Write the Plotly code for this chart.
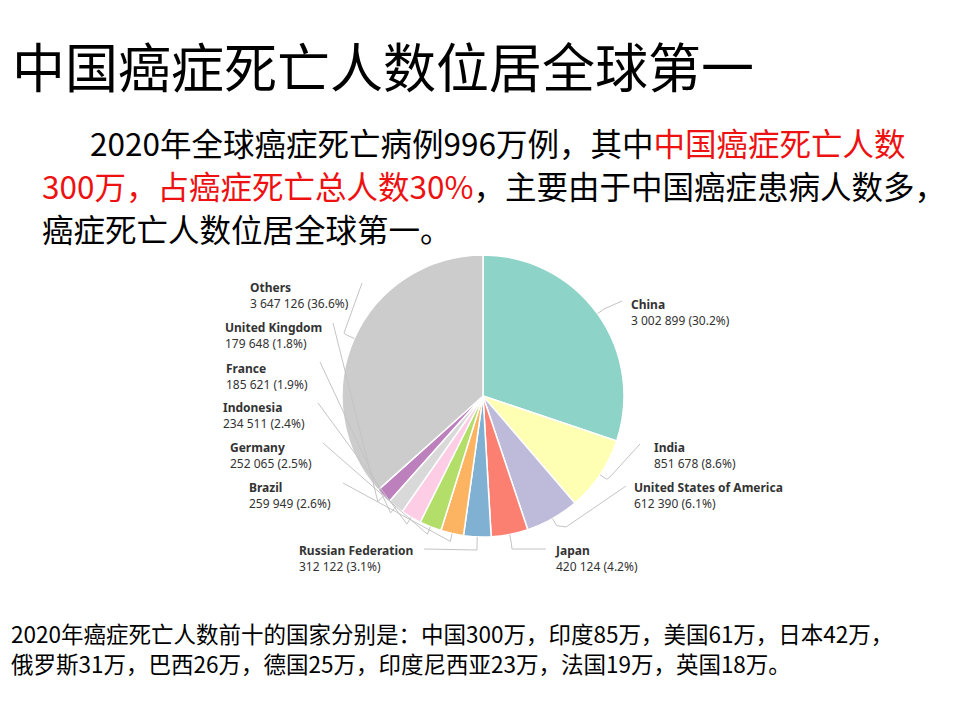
import math
import plotly.graph_objects as go

countries = ["China", "India", "United States of America", "Japan", "Russian Federation",
             "Brazil", "Germany", "Indonesia", "France", "United Kingdom", "Others"]
deaths = [3002899, 851678, 612390, 420124, 312122, 259949, 252065, 234511, 185621, 179648, 3647126]
colors = ["#8dd3c7", "#ffffb3", "#bebada", "#fb8072", "#80b1d3", "#fdb462",
          "#b3de69", "#fccde5", "#d9d9d9", "#bc80bd", "#cccccc"]

title_text = "中国癌症死亡人数位居全球第一"
para_lines = [
    "2020年全球癌症死亡病例996万例，其中<span style='color:#ee1111'>中国癌症死亡人数</span>",
    "<span style='color:#ee1111'>300万，占癌症死亡总人数30%</span>，主要由于中国癌症患病人数多，",
    "癌症死亡人数位居全球第一。",
]
bottom_lines = [
    "2020年癌症死亡人数前十的国家分别是：中国300万，印度85万，美国61万，日本42万，",
    "俄罗斯31万，巴西26万，德国25万，印度尼西亚23万，法国19万，英国18万。",
]

# layout (pixel) positions for the labels and leader line ends
label_pos = {
    "China": (629, 294), "India": (652, 437), "United States of America": (632, 477),
    "Japan": (553, 540), "Russian Federation": (297, 540), "Brazil": (247, 477),
    "Germany": (228, 437), "Indonesia": (221, 397), "France": (224, 358),
    "United Kingdom": (223, 317), "Others": (248, 277),
}
line_end = {
    "China": [(622, 301)], "India": [(609, 478), (640, 444)],
    "United States of America": [(566, 527), (626, 486)],
    "Japan": [(512, 549), (546, 549)], "Russian Federation": [(477, 550), (424, 549)],
    "Brazil": [(343, 483)], "Germany": [(323, 443)], "Indonesia": [(318, 403)],
    "France": [(320, 362)], "United Kingdom": [(333, 323)], "Others": [(344, 333), (362, 283)],
}

W, H = 960, 720
OFF = 8  # page body margin
cx, cy, r = 483, 396, 141

fig = go.Figure()
fig.add_trace(go.Pie(
    labels=countries, values=deaths, sort=False, direction="clockwise", rotation=0,
    marker=dict(colors=colors, line=dict(color="white", width=1.5)),
    textinfo="none", hoverinfo="label+value+percent", showlegend=False,
    domain=dict(x=[(cx - OFF - r) / W, (cx - OFF + r) / W],
                y=[(H - (cy - OFF) - r) / H, (H - (cy - OFF) + r) / H]),
))

total = sum(deaths)
shapes = []
annotations = []
cum = 0
for name, v in zip(countries, deaths):
    mid = (cum + v / 2) / total * 2 * math.pi
    cum += v
    sx, sy = cx + r * math.sin(mid), cy - r * math.cos(mid)
    ex, ey = cx + (r + 8) * math.sin(mid), cy - (r + 8) * math.cos(mid)
    pts = [(sx, sy), (ex, ey)] + line_end[name]
    path = "M " + " L ".join(f"{x:.1f},{y:.1f}" for x, y in pts)
    shapes.append(dict(type="path", path=path, xref="x", yref="y",
                       line=dict(color="#c4c4c4", width=1)))
    pct = v / total * 100
    val = f"{v:,}".replace(",", " ")
    lx, ly = label_pos[name]
    annotations.append(dict(
        x=lx, y=ly, xref="x", yref="y", xanchor="left", yanchor="top", align="left",
        showarrow=False, text=f"<b>{name}</b><br>{val} ({pct:.1f}%)",
        font=dict(family="Noto Sans, sans-serif", size=12, color="#333333")))

cjk = "Noto Sans CJK SC"
annotations.append(dict(x=10, y=65, xref="x", yref="y", xanchor="left", yanchor="middle",
                        showarrow=False, text=title_text,
                        font=dict(family=cjk, size=53, color="black")))
para_x = [88, 40, 40]
para_y = [142, 185, 228]
for t, x, y in zip(para_lines, para_x, para_y):
    annotations.append(dict(x=x, y=y, xref="x", yref="y", xanchor="left", yanchor="middle",
                            showarrow=False, text=t, font=dict(family=cjk, size=31.5, color="black")))
for t, y in zip(bottom_lines, [633, 663]):
    annotations.append(dict(x=9, y=y, xref="x", yref="y", xanchor="left", yanchor="middle",
                            showarrow=False, text=t, font=dict(family=cjk, size=22.5, color="black")))

fig.update_layout(
    width=W, height=H, margin=dict(l=0, r=0, t=0, b=0),
    paper_bgcolor="white", plot_bgcolor="rgba(0,0,0,0)",
    xaxis=dict(range=[OFF, W + OFF], visible=False, domain=[0, 1], fixedrange=True),
    yaxis=dict(range=[H + OFF, OFF], visible=False, domain=[0, 1], fixedrange=True),
    shapes=shapes, annotations=annotations,
)
fig.write_html("out.html")
